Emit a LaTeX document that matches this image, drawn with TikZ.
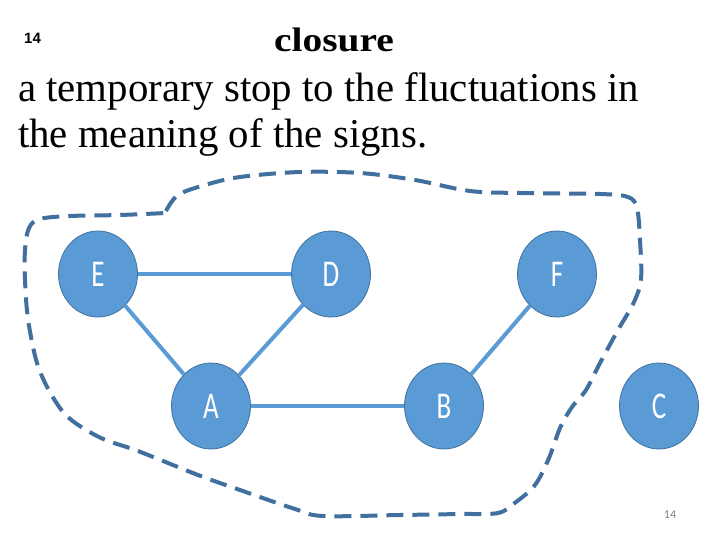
\documentclass[tikz,border=0pt]{standalone}
\usepackage{fontspec}
\setmainfont{Liberation Serif}
\newfontfamily\nodefont{Carlito}
\newfontfamily\arialfont{Liberation Sans}
\usetikzlibrary{shapes.geometric}
\definecolor{nodeblue}{HTML}{5B9BD5}
\definecolor{nodeedge}{HTML}{41719C}
\definecolor{dashblue}{HTML}{41709F}
\tikzset{
  vert/.style={ellipse, fill=nodeblue, draw=nodeedge, line width=0.8pt,
    minimum width=79pt, minimum height=86pt, inner sep=0pt,
    text=white, font=\nodefont\fontsize{27}{27}\selectfont},
  link/.style={draw=nodeblue, line width=4pt},
  hull/.style={draw=dashblue, line width=4pt, dash pattern=on 17pt off 9pt},
  body/.style={anchor=base west, font=\fontsize{41}{41}\selectfont, xscale=0.995, inner sep=0pt},
}
\newcommand{\tallchar}[1]{\scalebox{1}[1.4]{#1}}
\begin{document}
\begin{tikzpicture}[x=1pt,y=-1pt]
\useasboundingbox[fill=white] (0,0) rectangle (720,540);
% texts
\node[anchor=base, font=\bfseries\fontsize{34}{34}\selectfont, xscale=1.16, inner sep=0pt] (title) at (334,52) {closure};
\node[body] (line1) at (18,102) {a temporary stop to the fluctuations in};
\node[body] (line2) at (18,148) {the meaning of the signs.};
\node[anchor=base west, font=\arialfont\bfseries\fontsize{15}{15}\selectfont, inner sep=0pt] (num) at (24,44) {14};
\node[anchor=base, font=\nodefont\fontsize{12}{12}\selectfont, text=black!50, inner sep=0pt] (pnum) at (670,518) {14};
% nodes
\node[vert] (E) at (98,274) {\tallchar{E}};
\node[vert] (D) at (331,274) {\tallchar{D}};
\node[vert] (F) at (557,274) {\tallchar{F}};
\node[vert] (A) at (211,406) {\tallchar{A}};
\node[vert] (B) at (444,406) {\tallchar{B}};
\node[vert] (C) at (659,406) {\tallchar{C}};
% edges
\draw[link] (E) -- (D);
\draw[link] (E) -- (A);
\draw[link] (D) -- (A);
\draw[link] (A) -- (B);
\draw[link] (B) -- (F);
% dashed closure
\draw[hull] plot[smooth, tension=0.55] coordinates {
(166,211) (178,195) (205,185) (240,177) (300,172) (360,173) (415,180)
(470,191) (520,193) (600,194) (628,197) (637,208) (640,240) (641,279)
(634,302) (618,330) (600,363) (586,390) (572,407) (560,428) (549,458)
(535,485) (516,502) (498,513) (460,514) (400,515) (323,516) (295,509)
(240,490) (198,475) (138,451) (101,438) (69,418) (51,394) (37,363)
(28,319) (25,280) (25,250) (29,228) (40,219) (70,216) (120,215) (166,213)};
\end{tikzpicture}
\end{document}
